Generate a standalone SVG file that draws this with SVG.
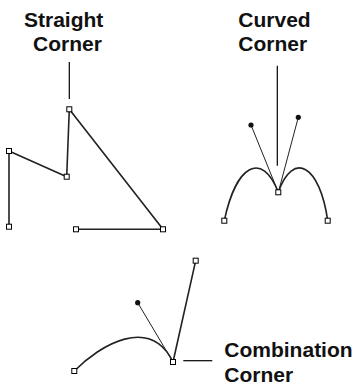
<svg xmlns="http://www.w3.org/2000/svg" width="355" height="387" viewBox="0 0 355 387">
  <style>
    .label { font-family: "Liberation Sans", Arial, sans-serif; font-weight: bold; font-size: 21px; fill: #111; }
    .path { fill: none; stroke: #222; stroke-width: 1.6; stroke-linejoin: miter; }
    .handle { fill: none; stroke: #222; stroke-width: 1; }
    .leader { stroke: #000; stroke-width: 1.2; }
    .anchor { fill: #fff; stroke: #000; stroke-width: 1; }
    .dot { fill: #111; }
  </style>
  <defs>
    <rect id="anchor" class="anchor" x="-2.5" y="-2.5" width="5" height="5"/>
    <circle id="dot" class="dot" r="2.6"/>
  </defs>

  <rect width="355" height="387" fill="#fff"/>

  <!-- Straight corner -->
  <g id="straight-corner">
    <text class="label" x="24" y="26.7">Straight</text>
    <text class="label" x="33" y="51">Corner</text>
    <line class="leader" x1="69.3" y1="62" x2="69.3" y2="99"/>
    <polyline class="path" points="9,227 9,151 66.7,176.7 69.3,109.3 163,229.3 76,229.3"/>
    <use href="#anchor" x="69.3" y="109.3"/>
    <use href="#anchor" x="9" y="151"/>
    <use href="#anchor" x="9" y="226.7"/>
    <use href="#anchor" x="66.7" y="176.7"/>
    <use href="#anchor" x="163" y="229.3"/>
    <use href="#anchor" x="76" y="229.3"/>
  </g>

  <!-- Curved corner -->
  <g id="curved-corner">
    <text class="label" x="238.3" y="26.7">Curved</text>
    <text class="label" x="238.3" y="51">Corner</text>
    <line class="leader" x1="277.3" y1="65.7" x2="277.3" y2="165.7"/>
    <line class="handle" x1="278.3" y1="192.3" x2="251" y2="125"/>
    <line class="handle" x1="278.3" y1="192.3" x2="298.3" y2="117.3"/>
    <path class="path" d="M224.3,220.7 C236,165 262,150 278.3,192.3 C293,150 320,165 327.7,220.7"/>
    <use href="#dot" x="251" y="125"/>
    <use href="#dot" x="298.3" y="117.3"/>
    <use href="#anchor" x="278.3" y="192.3"/>
    <use href="#anchor" x="224.3" y="220.7"/>
    <use href="#anchor" x="327.7" y="220.7"/>
  </g>

  <!-- Combination corner -->
  <g id="combination-corner">
    <text class="label" x="224.3" y="357.3">Combination</text>
    <text class="label" x="224.3" y="381.7">Corner</text>
    <line class="leader" x1="183.3" y1="360.7" x2="212.3" y2="360.7"/>
    <line class="handle" x1="173" y1="362" x2="137.7" y2="302.7"/>
    <path class="path" d="M74.3,371 C100,345 150,315 173,362 L195.7,260.7"/>
    <use href="#dot" x="137.7" y="302.7"/>
    <use href="#anchor" x="195.7" y="260.7"/>
    <use href="#anchor" x="173" y="362"/>
    <use href="#anchor" x="74.3" y="371"/>
  </g>
</svg>
